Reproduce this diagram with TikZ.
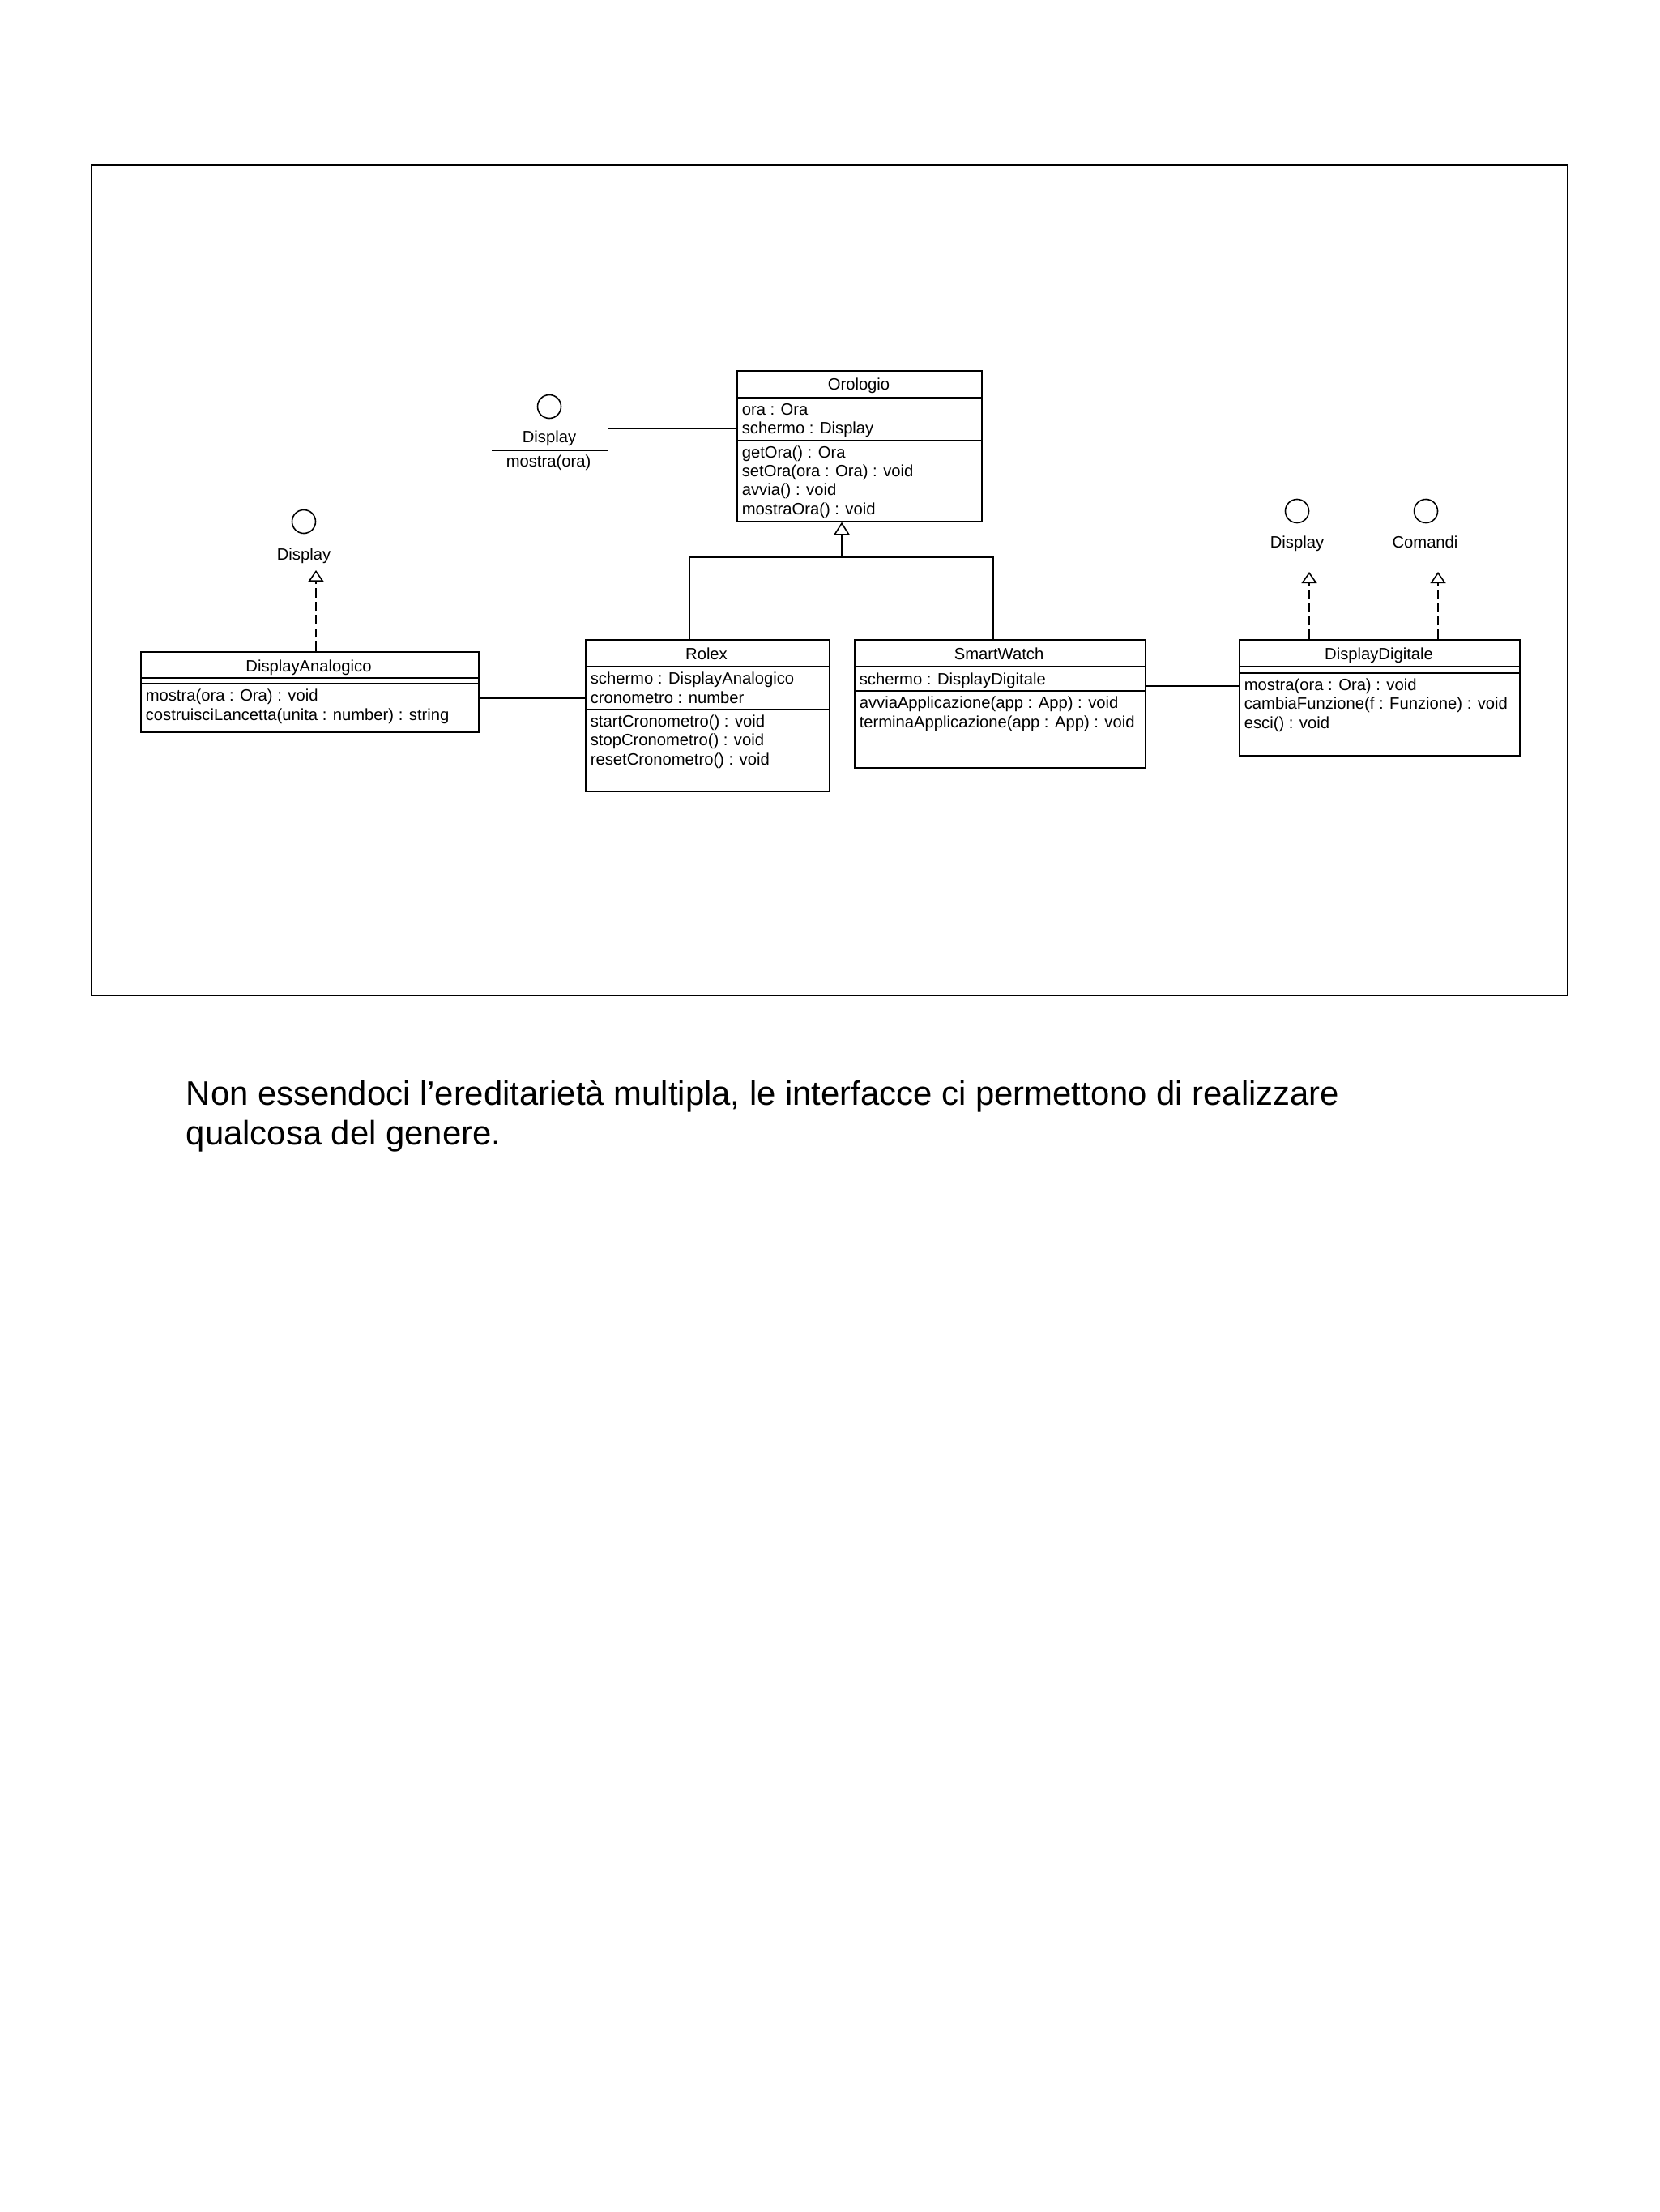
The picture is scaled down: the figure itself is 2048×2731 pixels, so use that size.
\documentclass[tikz,border=0pt]{standalone}
\usepackage{fontspec}
\setmainfont{Liberation Sans}
\usetikzlibrary{arrows.meta}

\newcommand{\umlfont}{\fontsize{5.75}{6.55}\selectfont}
\tikzset{
  classbox/.style={draw, anchor=north west, inner sep=0pt},
  classname/.style={anchor=base, inner sep=0pt, font=\umlfont},
  members/.style={anchor=base west, align=left, inner sep=0pt, font=\umlfont},
  lollipop/.style={draw, circle, minimum size=0.29cm, inner sep=0pt},
  ifname/.style={anchor=base, inner sep=0pt, font=\umlfont},
  inherit/.style={-{Triangle[open, width=0.2cm, length=0.16cm]}},
  realize/.style={dash pattern=on 0.115cm off 0.05cm, -{Triangle[open, width=0.19cm, length=0.14cm]}},
}

\begin{document}
\begin{tikzpicture}[x=0.01cm, y=-0.01cm, line width=0.45pt]
\useasboundingbox (0,0) rectangle (2048,2731);
\draw[line width=0.8pt] (113,204) rectangle (1935,1229);
%
% classes (member nodes sit on the baseline of their last line)
\node[classbox, minimum width=3.02cm, minimum height=1.86cm] (orologio) at (909,457) {};
\draw (909,491) -- (1211,491);
\draw (909,544) -- (1211,544);
\node[classname] at (1060,482) {Orologio};
\node[members] at (915,536) {ora : Ora\\schermo : Display};
\node[members] at (915,635) {getOra() : Ora\\setOra(ora : Ora) : void\\avvia() : void\\mostraOra() : void};
%
\node[classbox, minimum width=4.17cm, minimum height=0.99cm] (dAnalog) at (173,804) {};
\draw (173,837) -- (590,837);
\draw (173,844) -- (590,844);
\node[classname] at (381,829) {DisplayAnalogico};
\node[members] at (179,889) {mostra(ora : Ora) : void\\costruisciLancetta(unita : number) : string};
%
\node[classbox, minimum width=3.01cm, minimum height=1.87cm] (rolex) at (722,789) {};
\draw (722,823) -- (1023,823);
\draw (722,876) -- (1023,876);
\node[classname] at (872,814) {Rolex};
\node[members] at (728,868) {schermo : DisplayAnalogico\\cronometro : number};
\node[members] at (728,944) {startCronometro() : void\\stopCronometro() : void\\resetCronometro() : void};
%
\node[classbox, minimum width=3.59cm, minimum height=1.58cm] (smart) at (1054,789) {};
\draw (1054,823) -- (1413,823);
\draw (1054,853) -- (1413,853);
\node[classname] at (1233,814) {SmartWatch};
\node[members] at (1060,845) {schermo : DisplayDigitale};
\node[members] at (1060,898) {avviaApplicazione(app : App) : void\\terminaApplicazione(app : App) : void};
%
\node[classbox, minimum width=3.46cm, minimum height=1.43cm] (dDigit) at (1529,789) {};
\draw (1529,823) -- (1875,823);
\draw (1529,831) -- (1875,831);
\node[classname] at (1702,814) {DisplayDigitale};
\node[members] at (1535,899) {mostra(ora : Ora) : void\\cambiaFunzione(f : Funzione) : void\\esci() : void};
%
% interfaces
\node[lollipop] (ifOro) at (678,502) {};
\node[ifname] (ifOroName) at (678,547) {Display};
\draw (607,556) -- (750,556);
\node[ifname] (ifOroOps) at (677,577) {mostra(ora)};
\node[lollipop] (ifAna) at (375,644) {};
\node[ifname] (ifAnaName) at (375,691) {Display};
\node[lollipop] (ifDig) at (1601,631) {};
\node[ifname] (ifDigName) at (1601,676) {Display};
\node[lollipop] (ifCmd) at (1760,631) {};
\node[ifname] (ifCmdName) at (1759,676) {Comandi};
%
\coordinate (oroEnd) at (750,529);
\coordinate (hub) at (1039,688);
\coordinate (anaTip) at (390,704);
\coordinate (digTip) at (1616,706);
\coordinate (cmdTip) at (1775,706);
%
\draw (oroEnd) -- (oroEnd -| orologio.west);
\draw (dAnalog.east |- 0,862) -- (rolex.west |- 0,862);
\draw (smart.east |- 0,847) -- (dDigit.west |- 0,847);
\draw[inherit] (rolex.north -| 851,0) |- (hub) -- (hub |- orologio.south);
\draw (smart.north -| 1226,0) |- (hub);
\draw[realize] (dAnalog.north -| anaTip) -- (anaTip);
\draw[realize] (dDigit.north -| digTip) -- (digTip);
\draw[realize] (dDigit.north -| cmdTip) -- (cmdTip);
%
\node[anchor=base west, align=left, inner sep=0pt, font=\fontsize{11.9}{13.66}\selectfont] (note) at (229,1413) {Non essendoci l’ereditarietà multipla, le interfacce ci permettono di realizzare\\qualcosa del genere.};
%
\end{tikzpicture}
\end{document}
